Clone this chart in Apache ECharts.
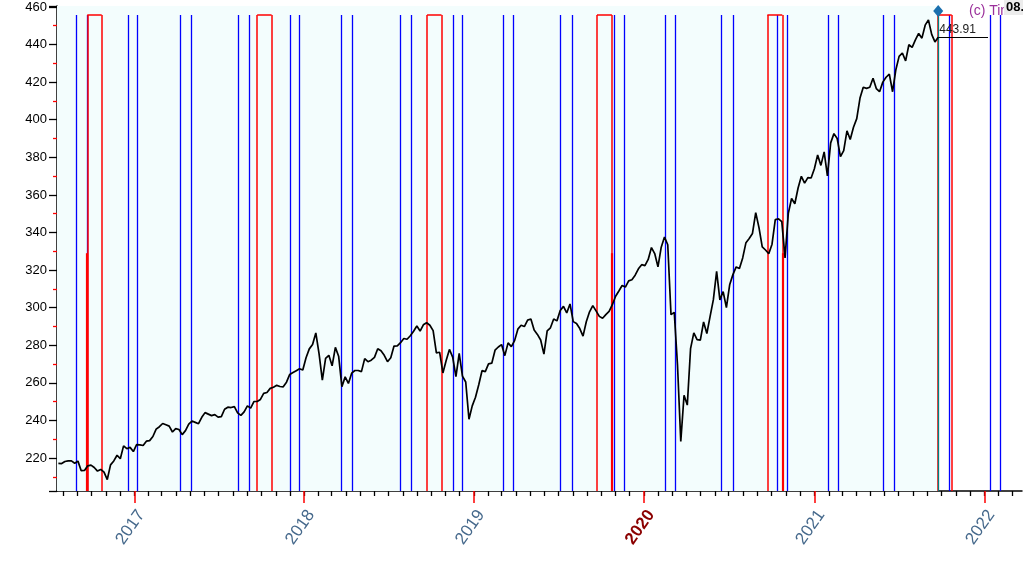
<!DOCTYPE html>
<html><head><meta charset="utf-8">
<script src="https://cdn.jsdelivr.net/npm/echarts@6/dist/echarts.min.js"></script>
<style>html,body{margin:0;padding:0;background:#fff}#c{width:1023px;height:564px}</style>
</head><body><div id="c"></div>
<script>
// ---- data ----
const firstWeek = '2016-07-22';
const weeklyClose = [
 217.2,217.1,218.2,218.5,218.5,217.3,218.4,213.3,213.4,215.9,216.3,215.0,213.1,214.0,212.5,208.6,216.4,218.5,221.5,219.7,226.5,225.0,225.7,223.5,
 227.2,227.0,226.7,229.0,229.3,231.5,235.4,236.7,238.4,237.7,237.0,233.9,235.7,235.2,232.5,234.6,238.1,239.7,239.0,238.3,241.7,244.2,243.4,242.6,243.1,241.8,242.1,246.0,247.1,246.9,247.4,244.1,242.7,244.6,247.8,246.6,250.1,250.1,251.2,254.4,254.9,257.1,257.7,258.7,258.1,257.9,260.4,264.5,265.5,266.5,267.5,266.9,
 273.4,278.1,280.4,286.6,275.5,261.5,273.0,274.7,269.1,278.9,274.2,258.0,263.2,259.7,265.2,266.6,266.6,266.0,272.9,271.3,272.1,273.6,278.2,277.1,274.7,271.3,273.4,279.6,279.7,281.4,283.6,283.2,285.1,287.5,290.3,287.6,290.9,292.0,290.7,287.8,276.0,276.3,265.3,271.9,277.8,273.7,263.3,275.7,263.6,260.5,240.7,247.8,
 252.4,259.0,266.5,266.0,270.1,270.5,277.4,279.1,280.4,274.5,281.3,279.3,282.5,288.6,290.7,290.0,293.4,294.0,288.1,285.8,282.8,275.3,287.7,289.3,294.0,293.0,298.5,300.7,297.2,302.0,292.6,291.6,288.9,284.9,292.5,297.8,301.1,298.3,295.4,294.4,296.3,298.0,301.6,306.1,308.9,311.8,311.0,314.3,314.9,317.3,320.7,322.9,
 322.4,325.7,332.0,328.8,321.7,332.2,337.6,333.5,296.3,297.5,269.3,228.8,253.4,248.2,278.2,286.6,283.0,282.8,292.4,286.3,295.4,304.3,319.3,304.2,308.6,300.1,312.2,317.6,321.7,320.9,326.5,334.6,336.8,339.5,350.6,342.6,332.4,330.7,328.7,333.8,346.9,347.3,345.8,326.5,350.2,358.1,355.3,363.7,369.9,366.3,369.2,369.0,373.9,
 381.3,375.7,382.9,370.1,387.7,392.6,390.0,380.4,383.6,394.1,389.5,396.0,400.6,411.5,417.3,416.7,417.3,422.1,416.6,414.9,420.0,422.6,424.3,414.9,426.6,433.7,435.5,431.3,439.9,438.5,442.5,445.9,443.4,450.3,453.1,445.4,441.4,443.9
];
const blueLines = ['2016-08-30','2016-09-22','2016-12-19','2017-01-07','2017-04-09','2017-05-03','2017-08-12','2017-09-04',
 '2017-12-01','2017-12-21','2018-03-21','2018-04-14','2018-07-26','2018-08-18','2018-11-17','2018-12-06','2019-03-04','2019-03-27',
 '2019-07-06','2019-07-30','2019-10-30','2019-11-19','2020-02-15','2020-03-09','2020-06-16','2020-07-10','2020-10-13','2020-11-03',
 '2021-01-31','2021-02-21','2021-05-29','2021-06-21','2021-10-18','2022-01-14','2022-02-04'];
const redBoxes = [['2016-09-22','2016-10-23'],['2017-09-22','2017-10-23'],['2018-09-22','2018-10-23'],
 ['2019-09-22','2019-10-24'],['2020-09-22','2020-10-24'],['2021-09-23','2021-10-23']];
const redStubs = ['2016-09-21','2019-10-24','2020-10-24'];
const redStubTop = 329;
const cycleTop = 455.7;
const lastDate = '2021-09-24';
const lastPrice = 443.91;
const priceLineEnd = '2022-01-09';
const markerValue = 457.8;
const xMin = '2016-07-19', xMax = '2022-03-23';
const yMin = 202.5, yMax = 460.5;
const tickYears = [2016, 2017, 2018, 2019, 2020, 2021, 2022];

// ---- build ----
const T = d => new Date(d + 'T00:00:00').getTime();
const p0 = firstWeek.split('-').map(Number);
const seriesData = weeklyClose.map((v, i) => [new Date(p0[0], p0[1]-1, p0[2] + 7*i).getTime(), v]);
const tMin = T(xMin), tMax = T(xMax);
const monthTicks = [];
tickYears.forEach(y => { for (let m = 0; m < 12; m++) { const t = new Date(y, m, 1).getTime(); if (t > tMin && t < tMax) monthTicks.push(t); } });
const yearTicks = tickYears.map(y => new Date(y, 0, 1).getTime()).filter(t => t > tMin && t < tMax);

const solid = (color, width) => ({color, width, type:'solid', opacity:1});
const ml = [];
blueLines.forEach(d => ml.push([{coord:[T(d), yMin], lineStyle:solid('#0000ff',1.3)}, {coord:[T(d), cycleTop]}]));
redBoxes.forEach(([a,b]) => {
  ml.push([{coord:[T(a), yMin], lineStyle:solid('#ff0000',1.5)}, {coord:[T(a), cycleTop]}]);
  ml.push([{coord:[T(b), yMin], lineStyle:solid('#ff0000',1.5)}, {coord:[T(b), cycleTop]}]);
  ml.push([{coord:[T(a), cycleTop], lineStyle:solid('#ff0000',1.5)}, {coord:[T(b), cycleTop]}]);
});
redStubs.forEach(d => ml.push([{coord:[T(d), yMin], lineStyle:solid('#ff0000',2.2)}, {coord:[T(d), redStubTop]}]));
ml.push([{coord:[T(lastDate), yMin], lineStyle:solid('#008080',1.3)}, {coord:[T(lastDate), markerValue - 2]}]);
ml.push([{coord:[T(lastDate), lastPrice], lineStyle:solid('#000',1),
  label:{show:true, formatter: String(lastPrice), position:'insideStartTop', distance:[1,1], color:'#222', fontSize:12, fontFamily:'Arial, "Liberation Sans", sans-serif'}},
  {coord:[T(priceLineEnd), lastPrice]}]);

const font = 'Arial, "Liberation Sans", sans-serif';
const chart = echarts.init(document.getElementById('c'), null, {renderer:'canvas'});
chart.setOption({
  animation:false,
  backgroundColor:'#ffffff',
  grid:{left:57, right:1, top:6, bottom:73, containLabel:false},
  xAxis:[{
    type:'value', min:tMin, max:tMax, position:'bottom',
    axisLine:{show:true, lineStyle:{color:'#000', width:1.5}},
    axisTick:{show:true, length:5, customValues:monthTicks, lineStyle:{color:'#000', width:1.3}},
    axisLabel:{show:false}, splitLine:{show:false}
  },{
    type:'value', min:tMin, max:tMax, position:'bottom',
    axisLine:{show:false},
    axisTick:{show:true, length:12, customValues:yearTicks, lineStyle:{color:'#ff0000', width:1.5}},
    axisLabel:{show:true, customValues:yearTicks, rotate:55, margin:16, verticalAlign:'top', fontSize:17, color:'#46698c', fontFamily:font,
      formatter:function(v){ const y=new Date(v).getFullYear(); return y===2020?'{r|2020}':String(y); },
      rich:{r:{color:'#8b0000', fontWeight:'bold', fontSize:17, fontFamily:font}}},
    splitLine:{show:false}
  }],
  yAxis:{
    type:'value', min:yMin, max:yMax, splitNumber:13, minInterval:20, maxInterval:20,
    axisLine:{show:true, lineStyle:{color:'#000', width:1.5}},
    axisTick:{show:true, length:8, lineStyle:{color:'#000', width:1.3}},
    minorTick:{show:true, splitNumber:2, length:4, lineStyle:{color:'#ff0000', width:1.3}},
    axisLabel:{fontSize:13, color:'#000', margin:10, fontFamily:font, showMinLabel:false, showMaxLabel:false},
    splitLine:{show:false}
  },
  graphic:[
    {type:'text', left:969, top:4, style:{text:'(c) Tin', fill:'#9b309b', font:'14px '+font}, z:100},
    {type:'text', left:1004, top:0, style:{text:'08.', fill:'#000', font:'bold 13px '+font, backgroundColor:'#ececec', padding:[1,2]}, z:101}
  ],
  series:[{
    type:'line', xAxisIndex:0, yAxisIndex:0, data:seriesData, showSymbol:false, symbol:'none',
    lineStyle:{color:'#000', width:1.7}, z:5,
    markArea:{silent:true, itemStyle:{color:'#f3fdfd'}, data:[[{coord:[tMin, yMin]},{coord:[T(lastDate), yMax]}]]},
    markLine:{silent:true, symbol:'none', animation:false, label:{show:false}, lineStyle:{type:'solid'}, data:ml},
    markPoint:{silent:true, symbol:'diamond', symbolSize:[10,12], itemStyle:{color:'#1a6fae'}, label:{show:false},
      data:[{coord:[T(lastDate), markerValue]}]}
  }]
});
</script></body></html>
